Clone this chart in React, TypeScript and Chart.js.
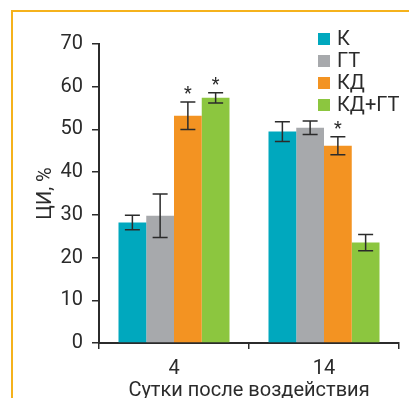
import React, { useEffect, useRef } from "react";
import { Chart, registerables } from "chart.js";

Chart.register(...registerables);

const categories = ["4", "14"];
const seriesNames = ["К", "ГТ", "КД", "КД+ГТ"];
const seriesK = [28.2, 49.5];
const seriesGT = [29.8, 50.4];
const seriesKD = [53.2, 46.2];
const seriesKDGT = [57.4, 23.5];
const errK = [1.7, 2.3];
const errGT = [5.1, 1.6];
const errKD = [3.2, 2.1];
const errKDGT = [1.2, 1.9];
const starsK = [false, false];
const starsGT = [false, false];
const starsKD = [true, true];
const starsKDGT = [true, false];
const yTicks = [0, 10, 20, 30, 40, 50, 60, 70];

const colors = ["#00A8BE", "#A7A9AC", "#F39322", "#8CC63F"];
const INK = "#2b2b2b";
const FONT = "Roboto";

const errorBarPlugin = {
  id: "errorBars",
  afterDatasetsDraw(chart: any) {
    const ctx = chart.ctx;
    const yScale = chart.scales.y;
    ctx.save();
    chart.data.datasets.forEach((ds: any, di: number) => {
      const meta = chart.getDatasetMeta(di);
      meta.data.forEach((bar: any, i: number) => {
        const v = ds.data[i];
        const e = ds.errors[i];
        const yTop = yScale.getPixelForValue(v + e);
        const yBot = yScale.getPixelForValue(v - e);
        const x = bar.x;
        const cap = 7.5;
        ctx.strokeStyle = INK;
        ctx.lineWidth = 1.5;
        ctx.beginPath();
        ctx.moveTo(x, yTop);
        ctx.lineTo(x, yBot);
        ctx.moveTo(x - cap, yTop);
        ctx.lineTo(x + cap, yTop);
        ctx.moveTo(x - cap, yBot);
        ctx.lineTo(x + cap, yBot);
        ctx.stroke();
        if (ds.stars[i]) {
          ctx.fillStyle = INK;
          ctx.font = `18px ${FONT}`;
          ctx.textAlign = "center";
          ctx.textBaseline = "alphabetic";
          ctx.fillText("*", x, yTop - 3);
        }
      });
    });
    ctx.restore();
  },
};

const legendPlugin = {
  id: "customLegend",
  afterDraw(chart: any) {
    const ctx = chart.ctx;
    ctx.save();
    chart.data.datasets.forEach((ds: any, di: number) => {
      const top = 33 + di * 22;
      ctx.fillStyle = ds.backgroundColor;
      ctx.fillRect(318, top, 12, 12);
      ctx.fillStyle = INK;
      ctx.font = `20px ${FONT}`;
      ctx.textAlign = "left";
      ctx.textBaseline = "middle";
      ctx.fillText(ds.label, 337, top + 7);
    });
    ctx.restore();
  },
};

export default function App() {
  const canvasRef = useRef<HTMLCanvasElement>(null);

  useEffect(() => {
    if (!canvasRef.current) return;
    const values = [seriesK, seriesGT, seriesKD, seriesKDGT];
    const errors = [errK, errGT, errKD, errKDGT];
    const stars = [starsK, starsGT, starsKD, starsKDGT];
    const chart = new Chart(canvasRef.current, {
      type: "bar",
      data: {
        labels: categories,
        datasets: seriesNames.map((name, i) => ({
          label: name,
          data: values[i],
          errors: errors[i],
          stars: stars[i],
          backgroundColor: colors[i],
          borderWidth: 0,
          categoryPercentage: 0.74,
          barPercentage: 1.0,
        })) as any,
      },
      options: {
        responsive: false,
        animation: false,
        layout: { padding: { top: 44, right: 10, left: 0, bottom: 0 } },
        plugins: {
          legend: { display: false },
          tooltip: { enabled: false },
        },
        scales: {
          x: {
            afterFit(scale: any) {
              scale.height = 55;
            },
            grid: {
              display: true,
              drawOnChartArea: false,
              drawTicks: true,
              tickLength: 6,
              color: INK,
              lineWidth: 1.5,
            },
            border: { display: true, color: INK, width: 2 },
            ticks: {
              color: INK,
              font: { family: FONT, size: 20 },
              padding: 8,
            },
            title: {
              display: true,
              text: "Сутки после воздействия",
              color: INK,
              font: { family: FONT, size: 20 },
              padding: { top: 0, bottom: -5 },
            },
          },
          y: {
            min: 0,
            max: 70,
            afterFit(scale: any) {
              scale.width = 99;
            },
            afterBuildTicks(scale: any) {
              scale.ticks = yTicks.map((v) => ({ value: v }));
            },
            grid: {
              display: true,
              drawOnChartArea: false,
              drawTicks: true,
              tickLength: 7,
              color: INK,
              lineWidth: 1.5,
            },
            border: { display: true, color: INK, width: 2 },
            ticks: {
              color: INK,
              font: { family: FONT, size: 20 },
              padding: 9,
            },
            title: {
              display: true,
              text: "ЦИ, %",
              color: INK,
              font: { family: FONT, size: 20 },
              padding: { top: 34, bottom: 0 },
            },
          },
        },
      },
      plugins: [errorBarPlugin, legendPlugin],
    });
    return () => chart.destroy();
  }, []);

  return (
    <div
      style={{
        position: "fixed",
        left: 0,
        top: 0,
        width: 409,
        height: 398,
        background: "#fff",
        overflow: "hidden",
      }}
    >
      <div
        style={{
          position: "absolute",
          left: 11,
          top: 10,
          width: 420,
          height: 420,
          borderTop: "2px solid #F5B21C",
          borderLeft: "2px solid #F5B21C",
        }}
      />
      <canvas
        ref={canvasRef}
        width={409}
        height={398}
        style={{ position: "absolute", left: 0, top: 0 }}
      />
    </div>
  );
}
